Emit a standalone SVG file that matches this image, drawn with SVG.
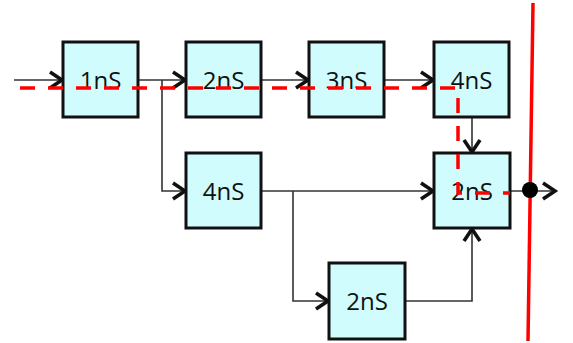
<svg xmlns="http://www.w3.org/2000/svg" width="573" height="343" viewBox="0 0 573 343">
<style>
.box{fill:#D0FCFE;stroke:#111;stroke-width:3}
.lbl{font-family:"Open Sans",sans-serif;font-size:24px;fill:#111;text-anchor:middle}
.wire{fill:none;stroke:#333;stroke-width:1.6}
.red{fill:none;stroke:#F00;stroke-width:3.5}
</style>
<defs>
<marker id="ch" markerUnits="userSpaceOnUse" markerWidth="20" markerHeight="22" viewBox="-3 -3 20 22" refX="13" refY="8" orient="auto">
<path d="M0,0 L12,8 L0,16" fill="none" stroke="#111" stroke-width="3.6"/>
</marker>
</defs>
<rect width="573" height="343" fill="#fff"/>
<g id="connectors">
<path class="wire" d="M14,80 H63" marker-end="url(#ch)"/>
<path class="wire" d="M138,80 H186" marker-end="url(#ch)"/>
<path class="wire" d="M162,80 V191 H186" marker-end="url(#ch)"/>
<path class="wire" d="M261,80 H309" marker-end="url(#ch)"/>
<path class="wire" d="M384,80 H434" marker-end="url(#ch)"/>
<path class="wire" d="M472,117 V153" marker-end="url(#ch)"/>
<path class="wire" d="M261,191 H434" marker-end="url(#ch)"/>
<path class="wire" d="M293,191 V301 H329" marker-end="url(#ch)"/>
<path class="wire" d="M405,301 H472 V228" marker-end="url(#ch)"/>
<path class="wire" d="M510,191 H556" marker-end="url(#ch)"/>
</g>
<g id="n1"><rect class="box" x="63" y="42" width="75" height="75"/><text class="lbl" x="100.5" y="89">1nS</text></g>
<g id="n2"><rect class="box" x="186" y="42" width="75" height="75"/><text class="lbl" x="223.5" y="89">2nS</text></g>
<g id="n3"><rect class="box" x="309" y="42" width="75" height="75"/><text class="lbl" x="346.5" y="89">3nS</text></g>
<g id="n4"><rect class="box" x="434" y="42" width="75" height="75"/><text class="lbl" x="471.5" y="89">4nS</text></g>
<g id="n5"><rect class="box" x="186" y="153" width="75" height="75"/><text class="lbl" x="223.5" y="200">4nS</text></g>
<g id="n6"><rect class="box" x="434" y="153" width="76" height="75"/><text class="lbl" x="472" y="200">2nS</text></g>
<g id="n7"><rect class="box" x="329" y="263" width="76" height="76"/><text class="lbl" x="367" y="310">2nS</text></g>
<g id="cut">
<path class="red" d="M20,88 H458 V193 H510" stroke-dasharray="15 13"/>
<path class="red" d="M533,3 L528,341"/>
<circle cx="530" cy="190" r="8" fill="#000"/>
</g>
</svg>
